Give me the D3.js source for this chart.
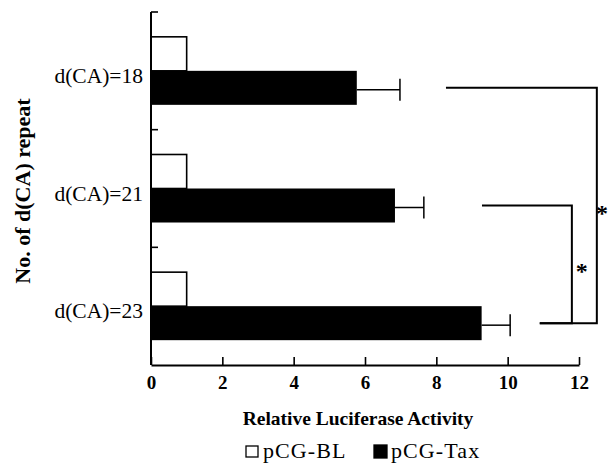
<!DOCTYPE html>
<html>
<head>
<meta charset="utf-8">
<script src="https://cdn.jsdelivr.net/npm/d3@7"></script>
<style>
  body { margin: 0; background: #fff; }
  svg text { font-family: 'Liberation Serif', 'Times New Roman', serif; fill: #000; }
</style>
</head>
<body>
<svg id="chart"></svg>
<script>
// data
const categories = ['d(CA)=18', 'd(CA)=21', 'd(CA)=23'];
const series = ['pCG-BL', 'pCG-Tax'];
const blValues = [1, 1, 1];
const taxValues = [5.77, 6.84, 9.27];
const taxErrors = [1.21, 0.81, 0.80];
const xTicks = [0, 2, 4, 6, 8, 10, 12];
// significance brackets: compared categories, start of each arm (x units), vertical at x
const brackets = [
  {from: 0, to: 2, startTop: 8.27, startBottom: 10.9, at: 12.5, label: '*'},
  {from: 1, to: 2, startTop: 9.28, startBottom: 10.9, at: 11.8, label: '*'}
];

const serif = "'Liberation Serif', 'Times New Roman', serif";

const margin = {top: 12, right: 31, bottom: 104, left: 151};
const width = 610 - margin.left - margin.right;
const height = 469 - margin.top - margin.bottom;

const svgRoot = d3.select('#chart')
    .attr('width', 610)
    .attr('height', 469);
const svg = svgRoot.append('g')
    .attr('transform', 'translate(' + margin.left + ',' + margin.top + ')');

const x = d3.scaleLinear().domain([0, 12]).range([0, width]);
const y = d3.scaleBand().domain(categories).range([0, height]).paddingInner(0).paddingOuter(0);
const ySub = d3.scaleBand().domain(series).range([0, y.bandwidth()]).paddingInner(0).paddingOuter(0.73);

const rows = categories.map((c, i) => ({cat: c, bl: blValues[i], tax: taxValues[i], err: taxErrors[i]}));

// bars
svg.selectAll('.bl')
    .data(rows)
    .enter().append('rect')
    .attr('x', x(0))
    .attr('y', d => y(d.cat) + ySub('pCG-BL'))
    .attr('width', d => x(d.bl) - x(0))
    .attr('height', ySub.bandwidth())
    .attr('fill', '#fff')
    .attr('stroke', '#000')
    .attr('stroke-width', 1.6);

svg.selectAll('.tax')
    .data(rows)
    .enter().append('rect')
    .attr('x', x(0))
    .attr('y', d => y(d.cat) + ySub('pCG-Tax'))
    .attr('width', d => x(d.tax) - x(0))
    .attr('height', ySub.bandwidth())
    .attr('fill', '#000');

// error bars (upper side only)
const errY = d => y(d.cat) + ySub('pCG-Tax') + ySub.bandwidth() / 2 + 2;
svg.selectAll('.err')
    .data(rows)
    .enter().append('line')
    .attr('x1', d => x(d.tax))
    .attr('x2', d => x(d.tax + d.err))
    .attr('y1', errY)
    .attr('y2', errY)
    .attr('stroke', '#000')
    .attr('stroke-width', 1.5);
svg.selectAll('.cap')
    .data(rows)
    .enter().append('line')
    .attr('x1', d => x(d.tax + d.err))
    .attr('x2', d => x(d.tax + d.err))
    .attr('y1', d => errY(d) - 11)
    .attr('y2', d => errY(d) + 11)
    .attr('stroke', '#000')
    .attr('stroke-width', 1.5);

// x axis
const xAxis = svg.append('g')
    .attr('transform', 'translate(0,' + height + ')')
    .call(d3.axisBottom(x).tickValues(xTicks).tickSizeInner(-8).tickSizeOuter(0).tickPadding(11));
xAxis.attr('font-family', null).attr('font-size', null);
xAxis.select('.domain').attr('stroke-width', 2);
xAxis.selectAll('.tick line').attr('stroke-width', 1.6);
xAxis.selectAll('text')
    .attr('font-family', serif)
    .attr('font-size', 19)
    .attr('font-weight', 'bold');

// y axis
const yAxis = svg.append('g');
yAxis.append('line')
    .attr('x1', 0).attr('x2', 0)
    .attr('y1', 0).attr('y2', height)
    .attr('stroke', '#000').attr('stroke-width', 2);
yAxis.selectAll('.ytick')
    .data(categories)
    .enter().append('line')
    .attr('x1', 0).attr('x2', 7)
    .attr('y1', d => y(d)).attr('y2', d => y(d))
    .attr('stroke', '#000').attr('stroke-width', 1.6);
yAxis.selectAll('.ylabel')
    .data(categories)
    .enter().append('text')
    .attr('x', -8)
    .attr('y', d => y(d) + ySub('pCG-Tax') + 12)
    .attr('text-anchor', 'end')
    .attr('font-size', 21.5)
    .text(d => d);

// significance brackets
brackets.forEach(function(b) {
  const yTop = errY(rows[b.from]) - 2;
  const yBot = errY(rows[b.to]) - 2;
  svg.append('path')
      .attr('d', 'M' + x(b.startTop) + ',' + yTop + 'H' + x(b.at) + 'V' + yBot + 'H' + x(b.startBottom))
      .attr('fill', 'none')
      .attr('stroke', '#000')
      .attr('stroke-width', 2);
  svg.append('text')
      .attr('x', Math.min(x(b.at) + 10, 610 - margin.left - 8))
      .attr('y', (yTop + yBot) / 2 + 15)
      .attr('text-anchor', 'middle')
      .attr('font-size', 24)
      .attr('font-weight', 'bold')
      .text(b.label);
});

// axis titles
svgRoot.append('text')
    .attr('transform', 'translate(30,191) rotate(-90)')
    .attr('text-anchor', 'middle')
    .attr('font-size', 22)
    .attr('font-weight', 'bold')
    .text('No. of d(CA) repeat');

svgRoot.append('text')
    .attr('x', 358)
    .attr('y', 425)
    .attr('text-anchor', 'middle')
    .attr('font-size', 19.5)
    .attr('font-weight', 'bold')
    .text('Relative Luciferase Activity');

// legend
const legend = svgRoot.append('g').attr('transform', 'translate(245,458)');
const legendX = d3.scaleOrdinal().domain(series).range([0, 128]);
const legendFill = d3.scaleOrdinal().domain(series).range(['#fff', '#000']);
series.forEach(function(s) {
  legend.append('rect')
      .attr('x', legendX(s) + 1)
      .attr('y', s === 'pCG-BL' ? -12 : -13)
      .attr('width', s === 'pCG-BL' ? 12 : 13)
      .attr('height', s === 'pCG-BL' ? 11 : 13)
      .attr('fill', legendFill(s))
      .attr('stroke', '#000')
      .attr('stroke-width', 1.3);
  legend.append('text')
      .attr('x', legendX(s) + 18)
      .attr('y', 0)
      .attr('font-size', 22)
      .style('letter-spacing', '1.1px')
      .text(s);
});
</script>
</body>
</html>
